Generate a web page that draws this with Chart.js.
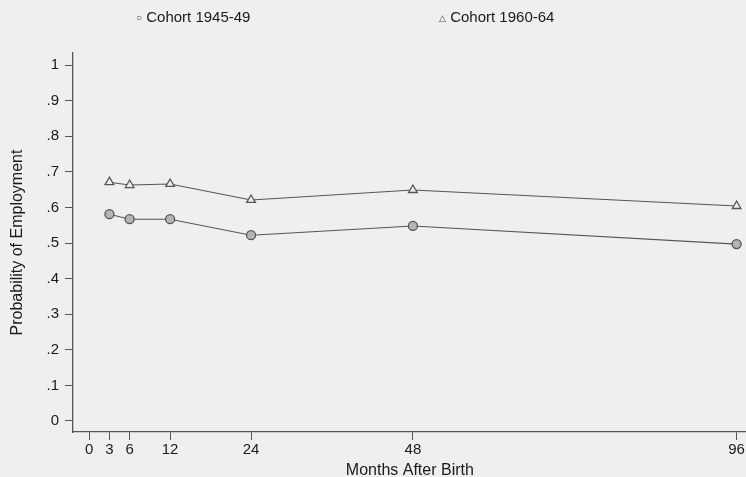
<!DOCTYPE html>
<html>
<head>
<meta charset="utf-8">
<style>
  html, body { margin:0; padding:0; background:#efefef; overflow:hidden; }
  #wrap { position:relative; width:746px; height:477px; overflow:hidden; }
  .leg { position:absolute; top:8px; font:15px "Liberation Sans", Arial, sans-serif; color:#1a1a1a; white-space:nowrap; }
  .sym { font-size:10px; color:#444; vertical-align:1px; }
</style>
</head>
<body>
<div id="wrap">
  <!-- canvas is a bit wider than the window so the last tick label's padding falls outside -->
  <canvas id="myChart" width="753" height="477"></canvas>
  <div class="leg" style="left:136px;"><span class="sym">○</span> Cohort 1945-49</div>
  <div class="leg" style="left:439px;"><span class="sym" style="font-size:9px;">△</span> Cohort 1960-64</div>
</div>

<script src="https://cdn.jsdelivr.net/npm/chart.js"></script>
<script>
  // data
  const months = [3, 6, 12, 24, 48, 96];
  const cohort4549 = [0.581, 0.567, 0.567, 0.522, 0.548, 0.497];
  const cohort6064 = [0.671, 0.663, 0.666, 0.621, 0.649, 0.604];
  const xTicks = [0, 3, 6, 12, 24, 48, 96];
  const yTicks = [0, 0.1, 0.2, 0.3, 0.4, 0.5, 0.6, 0.7, 0.8, 0.9, 1];
  const yTickLabels = ['0', '.1', '.2', '.3', '.4', '.5', '.6', '.7', '.8', '.9', '1'];

  const ink = '#555';
  const tickFont = { family: '"Liberation Sans", Arial, sans-serif', size: 15 };
  const titleFont = { family: '"Liberation Sans", Arial, sans-serif', size: 16 };

  const ctx = document.getElementById('myChart').getContext('2d');

  new Chart(ctx, {
    type: 'line',
    data: {
      datasets: [
        {
          label: 'Cohort 1945-49',
          data: months.map((m, i) => ({ x: m, y: cohort4549[i] })),
          borderColor: ink,
          borderWidth: 1.1,
          pointStyle: 'circle',
          pointRadius: 4.5,
          pointBorderWidth: 1.3,
          pointBackgroundColor: '#b5b5b5',
          pointBorderColor: ink,
          clip: false
        },
        {
          label: 'Cohort 1960-64',
          data: months.map((m, i) => ({ x: m, y: cohort6064[i] })),
          borderColor: ink,
          borderWidth: 1.1,
          pointStyle: 'triangle',
          pointRadius: 5,
          pointBorderWidth: 1.3,
          pointBackgroundColor: '#efefef',
          pointBorderColor: ink,
          clip: false
        }
      ]
    },
    options: {
      responsive: false,
      animation: false,
      layout: { padding: { top: 53, right: 0, left: 0, bottom: 0 } },
      plugins: {
        legend: { display: false },
        tooltip: { enabled: false }
      },
      scales: {
        x: {
          type: 'linear',
          min: -2.4,
          max: 97.5,
          afterBuildTicks: s => { s.ticks = xTicks.map(v => ({ value: v })); },
          afterFit: s => { s.height = 45; },
          grid: { drawOnChartArea: false, drawTicks: true, tickLength: 8, color: ink },
          border: { display: true, color: ink, width: 1.3 },
          ticks: { color: '#1a1a1a', font: tickFont, padding: 1, maxRotation: 0, autoSkip: false, callback: v => String(v) },
          title: { display: true, text: 'Months After Birth', color: '#1a1a1a', font: titleFont, padding: { top: 0, bottom: -3 } }
        },
        y: {
          min: -0.031,
          max: 1.034,
          afterBuildTicks: s => { s.ticks = yTicks.map(v => ({ value: v })); },
          afterFit: s => { s.width = 73; },
          grid: { drawOnChartArea: false, drawTicks: true, tickLength: 8, color: ink },
          border: { display: true, color: ink, width: 1.3 },
          ticks: {
            color: '#1a1a1a', font: tickFont, padding: 6, autoSkip: false,
            callback: (v, i) => yTickLabels[i]
          },
          title: { display: true, text: 'Probability of Employment', color: '#1a1a1a', font: titleFont, padding: { top: 8, bottom: 0 } }
        }
      }
    }
  });
</script>
</body>
</html>
